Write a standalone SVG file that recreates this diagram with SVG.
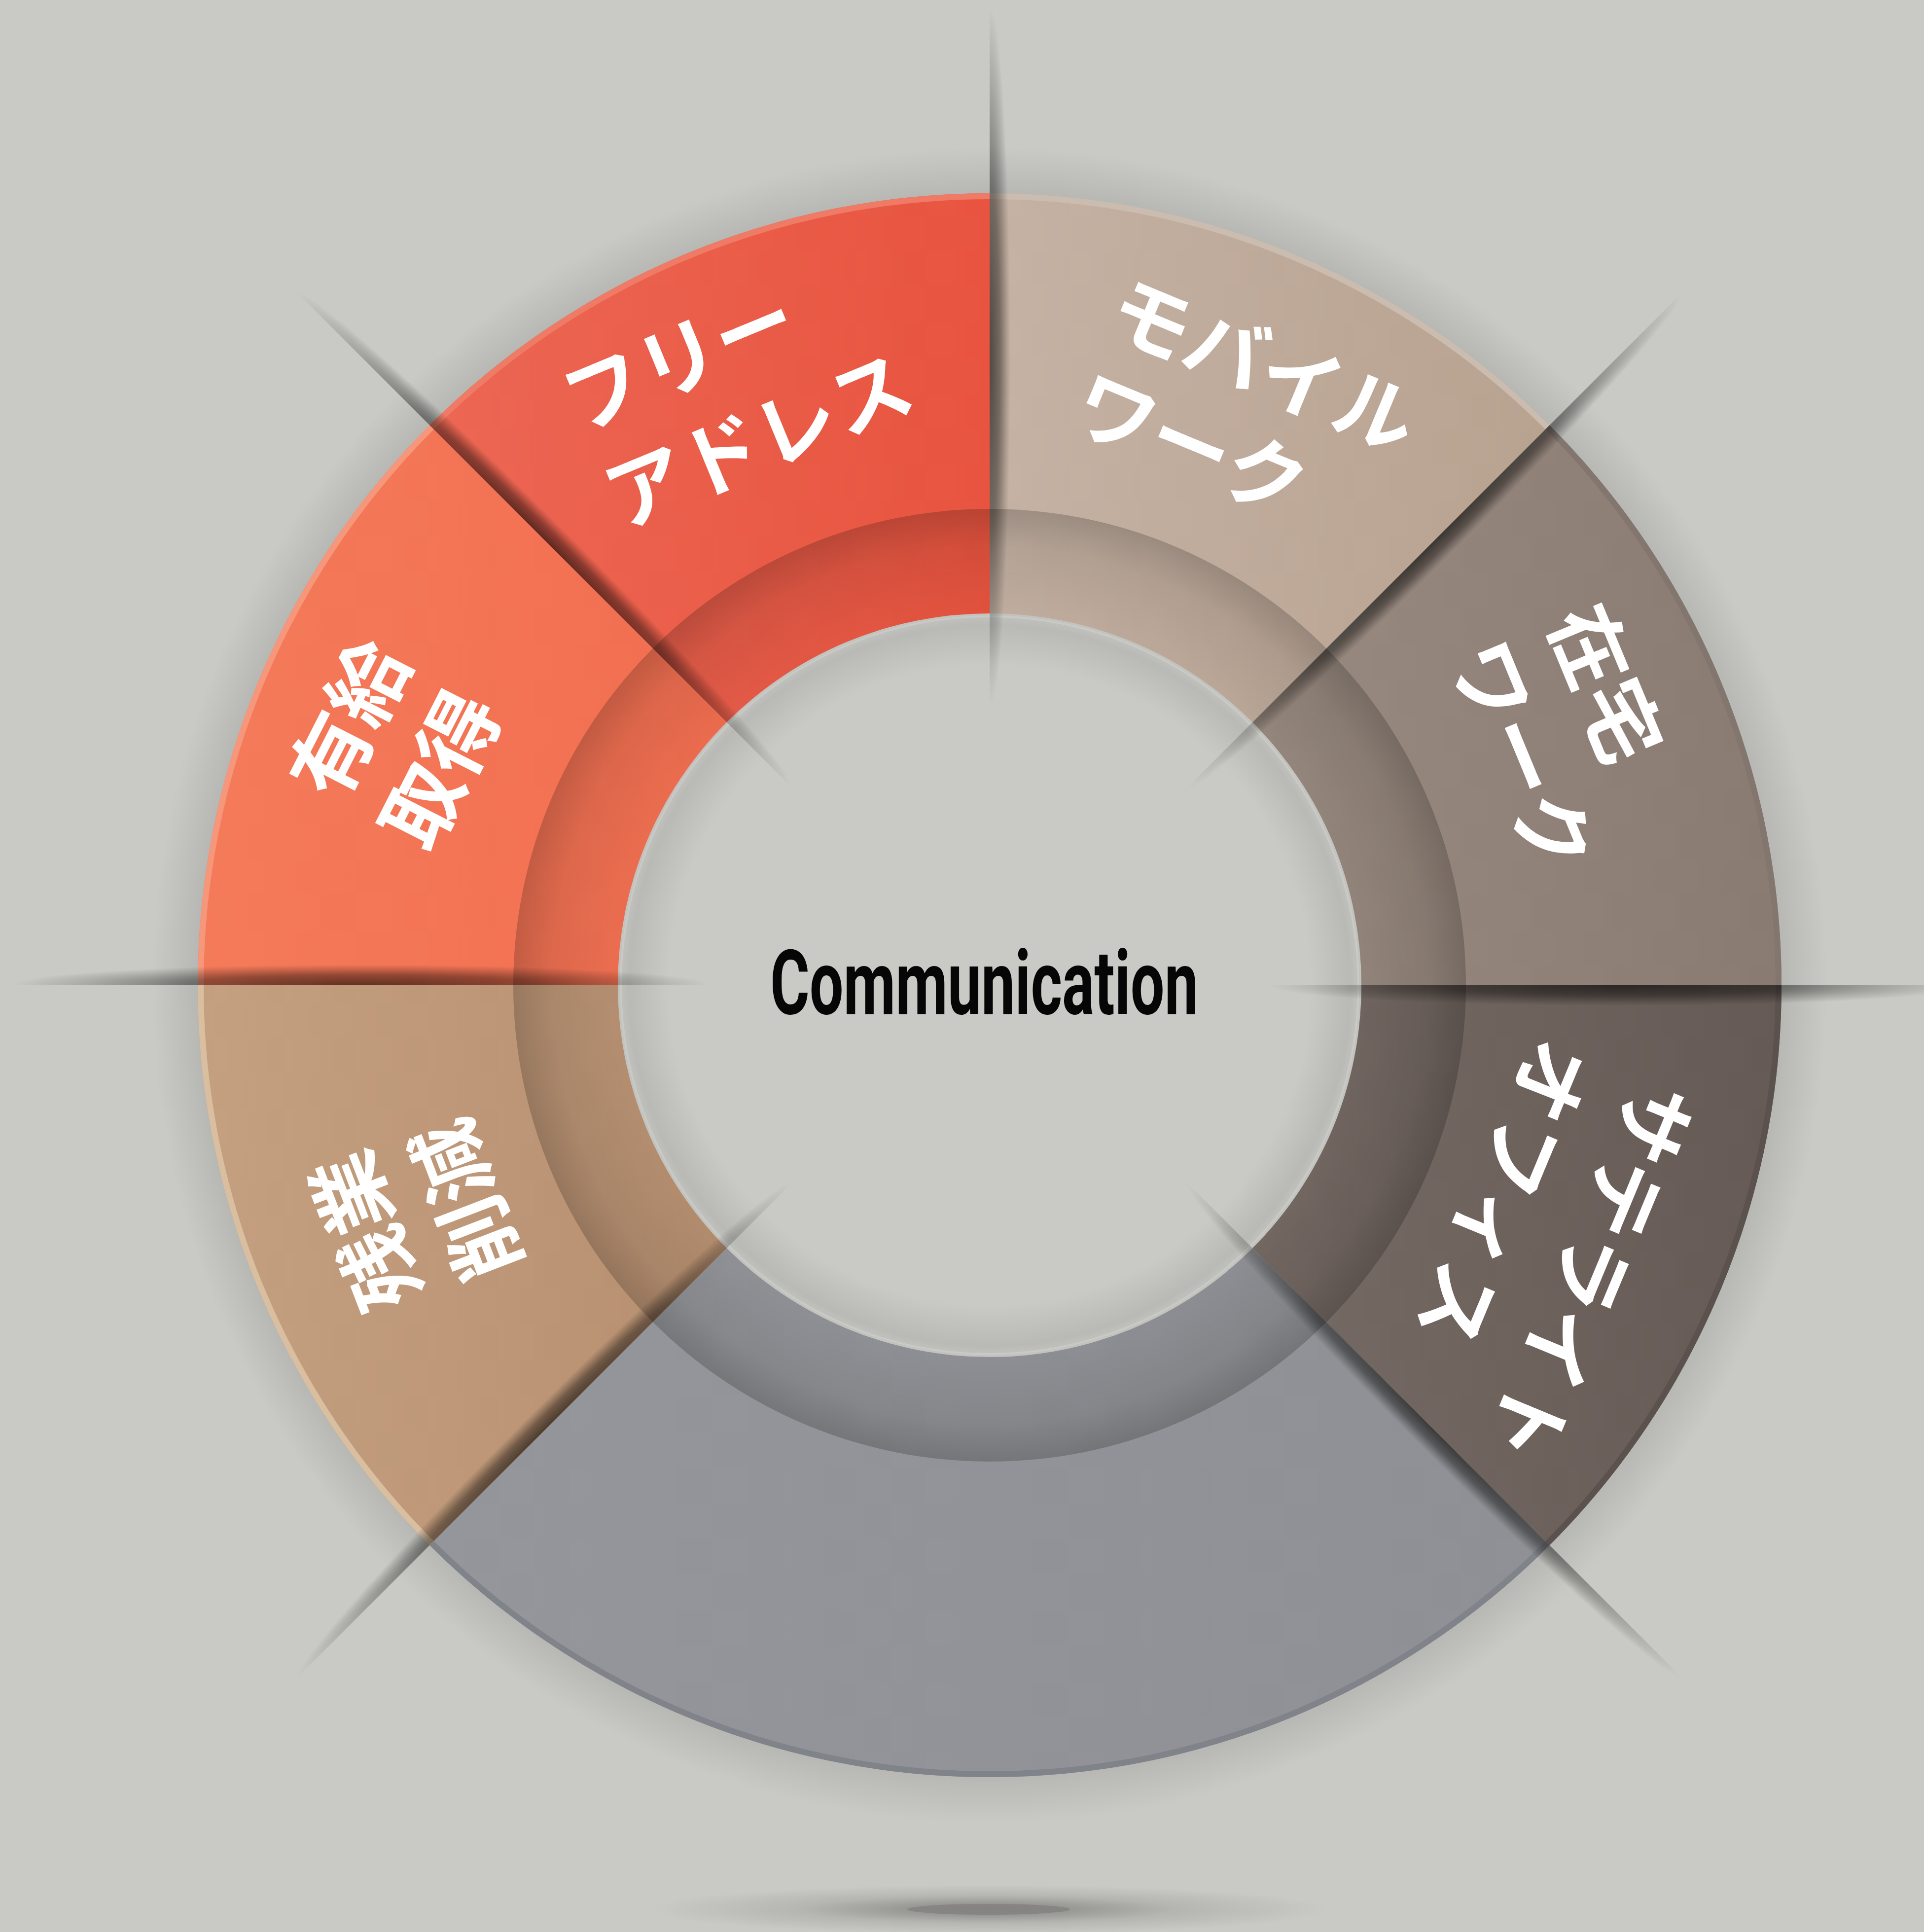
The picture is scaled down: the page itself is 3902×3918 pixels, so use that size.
<svg xmlns="http://www.w3.org/2000/svg" width="3902" height="3918" viewBox="0 0 3902 3918">
<defs>
<style>
.lbl { font-family: "Noto Sans CJK JP", "Noto Sans CJK SC", sans-serif; font-size: 164px; font-weight: 700; fill: #ffffff; }
.title { font-family: Roboto, "Liberation Sans", sans-serif; font-weight: 700; font-size: 182px; fill: #060606; }
.rim { fill: none; stroke-width: 12; }
.spoke { fill: url(#sp); }
</style>
<linearGradient id="g-tl" gradientUnits="userSpaceOnUse" x1="871" y1="0" x2="2007" y2="0"><stop offset="0" stop-color="#ec6754"/><stop offset="1" stop-color="#e8543f"/></linearGradient>
<linearGradient id="g-tr" gradientUnits="userSpaceOnUse" x1="2007" y1="0" x2="3143" y2="0"><stop offset="0" stop-color="#c5b2a4"/><stop offset="1" stop-color="#b8a290"/></linearGradient>
<linearGradient id="g-ru" gradientUnits="userSpaceOnUse" x1="2540" y1="0" x2="3613" y2="0"><stop offset="0" stop-color="#988a80"/><stop offset="1" stop-color="#8a7b72"/></linearGradient>
<linearGradient id="g-rl" gradientUnits="userSpaceOnUse" x1="2540" y1="0" x2="3613" y2="0"><stop offset="0" stop-color="#766a64"/><stop offset="1" stop-color="#655a55"/></linearGradient>
<linearGradient id="g-bot" gradientUnits="userSpaceOnUse" x1="871" y1="0" x2="3143" y2="0"><stop offset="0" stop-color="#95969b"/><stop offset="1" stop-color="#8f9095"/></linearGradient>
<linearGradient id="g-ll" gradientUnits="userSpaceOnUse" x1="401" y1="0" x2="1474" y2="0"><stop offset="0" stop-color="#c4a080"/><stop offset="1" stop-color="#b78f70"/></linearGradient>
<linearGradient id="g-lu" gradientUnits="userSpaceOnUse" x1="401" y1="0" x2="1474" y2="0"><stop offset="0" stop-color="#f47b5a"/><stop offset="1" stop-color="#f26e50"/></linearGradient>
<radialGradient id="band" gradientUnits="userSpaceOnUse" cx="2007" cy="1998" r="966">
<stop offset="0.78" stop-color="#000" stop-opacity="0.03"/><stop offset="0.92" stop-color="#000" stop-opacity="0.09"/><stop offset="1" stop-color="#000" stop-opacity="0.2"/></radialGradient>
<radialGradient id="outsh" gradientUnits="userSpaceOnUse" cx="2007" cy="1998" r="1700">
<stop offset="0.9" stop-color="#000" stop-opacity="0"/><stop offset="0.944" stop-color="#000" stop-opacity="0.09"/><stop offset="1" stop-color="#000" stop-opacity="0"/></radialGradient>
<radialGradient id="holesh" gradientUnits="userSpaceOnUse" cx="2007" cy="1998" r="754">
<stop offset="0.86" stop-color="#000" stop-opacity="0"/><stop offset="0.97" stop-color="#000" stop-opacity="0.08"/><stop offset="1" stop-color="#000" stop-opacity="0.03"/></radialGradient>
<radialGradient id="sp"><stop offset="0" stop-color="#000" stop-opacity="0.6"/><stop offset="0.5" stop-color="#000" stop-opacity="0.4"/><stop offset="0.8" stop-color="#000" stop-opacity="0.15"/><stop offset="1" stop-color="#000" stop-opacity="0"/></radialGradient>
<radialGradient id="floor"><stop offset="0" stop-color="#000" stop-opacity="0.34"/><stop offset="0.25" stop-color="#000" stop-opacity="0.24"/><stop offset="0.55" stop-color="#000" stop-opacity="0.1"/><stop offset="1" stop-color="#000" stop-opacity="0"/></radialGradient>
<clipPath id="half"><rect x="0" y="0" width="2100" height="120"/></clipPath>
</defs>

<rect x="0" y="0" width="3902" height="3918" fill="#c9cac5"/>

<g id="floor-shadow">
<ellipse cx="2005" cy="3872" rx="690" ry="50" fill="url(#floor)"/>
<ellipse cx="2005" cy="3872" rx="165" ry="11" fill="#858280" opacity="0.85"/>
</g>

<circle id="ring-shadow" cx="2007" cy="1998" r="1700" fill="url(#outsh)"/>

<g id="seg-free-address">
<path d="M871.4,862.4 A1606,1606 0 0 1 2007,392 L2007,1244 A754,754 0 0 0 1473.8,1464.8 Z" fill="url(#g-tl)"/>
<path class="rim" d="M875.6,866.6 A1600,1600 0 0 1 2007,398" stroke="#ef7a66"/>
<g transform="translate(1225,790) rotate(-22.5)">
<text class="lbl" x="-82" y="62">フリー</text>
<text class="lbl" x="-78" y="276">アドレス</text>
</g>
</g>

<g id="seg-mobile-work">
<path d="M2007,392 A1606,1606 0 0 1 3142.6,862.4 L2540.2,1464.8 A754,754 0 0 0 2007,1244 Z" fill="url(#g-tr)"/>
<path class="rim" d="M2007,398 A1600,1600 0 0 1 3138.4,866.6" stroke="#cbbcb0"/>
<g transform="translate(2336,646) rotate(22.5)">
<text class="lbl" x="-82" y="62">モバイル</text>
<text class="lbl" x="-75" y="267">ワーク</text>
</g>
</g>

<g id="seg-home-work">
<path d="M3142.6,862.4 A1606,1606 0 0 1 3613,1998 L2761,1998 A754,754 0 0 0 2540.2,1464.8 Z" fill="url(#g-ru)"/>
<path class="rim" d="M3138.4,866.6 A1600,1600 0 0 1 3607,1998" stroke="#82766f"/>
<g transform="translate(3226,1310) rotate(67.5)">
<text class="lbl" x="-82" y="62">在宅</text>
<text class="lbl" x="-92" y="275">ワーク</text>
</g>
</g>

<g id="seg-satellite-office">
<path d="M3613,1998 A1606,1606 0 0 1 3142.6,3133.6 L2540.2,2531.2 A754,754 0 0 0 2761,1998 Z" fill="url(#g-rl)"/>
<path class="rim" d="M3607,1998 A1600,1600 0 0 1 3138.4,3129.4" stroke="#5b514d"/>
<g transform="translate(3353,2278) rotate(112.5)">
<text class="lbl" x="-82" y="62">サテライト</text>
<text class="lbl" x="-80" y="286">オフィス</text>
</g>
</g>

<g id="seg-bottom">
<path d="M3142.6,3133.6 A1606,1606 0 0 1 871.4,3133.6 L1473.8,2531.2 A754,754 0 0 0 2540.2,2531.2 Z" fill="url(#g-bot)"/>
<path class="rim" d="M3138.4,3129.4 A1600,1600 0 0 1 875.6,3129.4" stroke="#80838a"/>
</g>

<g id="seg-overtime">
<path d="M871.4,3133.6 A1606,1606 0 0 1 401,1998 L1253,1998 A754,754 0 0 0 1473.8,2531.2 Z" fill="url(#g-ll)"/>
<path class="rim" d="M875.6,3129.4 A1600,1600 0 0 1 407,1998" stroke="#d9bea0"/>
<g transform="translate(771,2573) rotate(-111)">
<text class="lbl" x="-82" y="62">残業</text>
<text class="lbl" x="-96" y="274">削減</text>
</g>
</g>

<g id="seg-paid-leave">
<path d="M401,1998 A1606,1606 0 0 1 871.4,862.4 L1473.8,1464.8 A754,754 0 0 0 1253,1998 Z" fill="url(#g-lu)"/>
<path class="rim" d="M407,1998 A1600,1600 0 0 1 875.6,866.6" stroke="#f6967a"/>
<g transform="translate(671,1530) rotate(-63)">
<text class="lbl" x="-82" y="62">有給</text>
<text class="lbl" x="-90" y="273">取得</text>
</g>
</g>

<path id="inner-band" d="M2007,1032 A966,966 0 1 1 2007,2964 A966,966 0 1 1 2007,1032 Z M2007,1244 A754,754 0 1 0 2007,2752 A754,754 0 1 0 2007,1244 Z" fill="url(#band)" fill-rule="evenodd"/>

<g id="hole">
<circle cx="2007" cy="1998" r="754" fill="url(#holesh)"/>
<circle cx="2007" cy="1998" r="748" fill="none" stroke="#d2d2ce" stroke-width="4" opacity="0.5"/>
</g>

<g id="spokes">
<g transform="translate(2007,1998) rotate(-90)"><ellipse class="spoke" cx="1275" cy="0" rx="710" ry="42" clip-path="url(#half)"/></g>
<g transform="translate(2007,1998) rotate(-45)"><ellipse class="spoke" cx="1275" cy="0" rx="710" ry="42" clip-path="url(#half)"/></g>
<g transform="translate(2007,1998) rotate(0)"><ellipse class="spoke" cx="1275" cy="0" rx="710" ry="42" clip-path="url(#half)"/></g>
<g transform="translate(2007,1998) rotate(45)"><ellipse class="spoke" cx="1275" cy="0" rx="710" ry="42" clip-path="url(#half)"/></g>
<g transform="translate(2007,1998) rotate(135)"><ellipse class="spoke" cx="1275" cy="0" rx="710" ry="42" clip-path="url(#half)"/></g>
<g transform="translate(2007,1998) rotate(180)"><ellipse class="spoke" cx="1275" cy="0" rx="710" ry="42" clip-path="url(#half)"/></g>
<g transform="translate(2007,1998) rotate(225)"><ellipse class="spoke" cx="1275" cy="0" rx="710" ry="42" clip-path="url(#half)"/></g>
</g>

<g id="center">
<text class="title" x="1562" y="2056" textLength="868" lengthAdjust="spacingAndGlyphs">Communication</text>
</g>
</svg>
